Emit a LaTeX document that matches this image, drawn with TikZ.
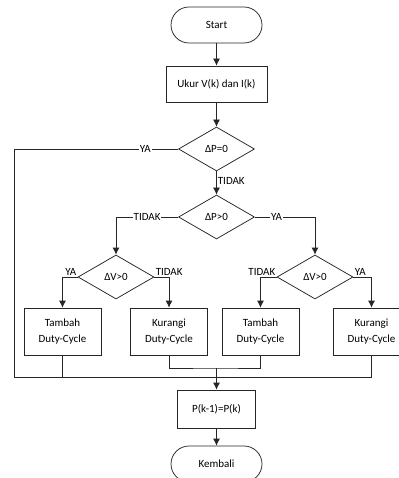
\documentclass[tikz,border=0pt]{standalone}
\usepackage{fontspec}
\setmainfont{Carlito}
\usepackage{tikz}
\usetikzlibrary{shapes.geometric,arrows.meta}
\tikzset{
  term/.style={draw,rounded corners=18pt,minimum width=91pt,minimum height=36pt},
  proc/.style={draw,minimum width=101pt,minimum height=36pt},
  act/.style={draw,align=center,minimum width=77pt,minimum height=47pt},
  dec/.style={draw,diamond,aspect=1.7,inner sep=0pt,minimum width=76pt,minimum height=44pt},
  lbl/.style={fill=white,inner sep=1pt,font=\fontsize{11}{13}\selectfont},
  arr/.style={-{Latex[length=7pt,width=7pt]}}
}
\begin{document}
\begin{tikzpicture}[x=1pt,y=-1pt,font=\fontsize{11}{16}\selectfont,line width=0.75pt,draw=black!85]
\useasboundingbox (0,0) rectangle (398,478);
\node[term] (start) at (216.5,25) {Start};
\node[proc] (ukur) at (216.5,84) {Ukur V(k) dan I(k)};
\node[dec] (dpnol) at (216.5,149) {ΔP=0};
\node[dec] (dppos) at (216.5,217) {ΔP>0};
\node[dec] (dvkiri) at (116,277) {ΔV>0};
\node[dec] (dvkanan) at (315,277) {ΔV>0};
\node[act] (tambah1) at (62.5,331.5) {Tambah\\Duty-Cycle};
\node[act] (kurang1) at (169,331.5) {Kurangi\\Duty-Cycle};
\node[act] (tambah2) at (260.5,331.5) {Tambah\\Duty-Cycle};
\node[act] (kurang2) at (371.5,331.5) {Kurangi\\Duty-Cycle};
\node[draw,minimum width=78pt,minimum height=38pt] (pk) at (216.5,409) {P(k-1)=P(k)};
\node[term] (kembali) at (216.5,464) {Kembali};
\coordinate (gabung) at (216.5,368);
\coordinate (bus) at (216.5,377);

\draw[arr] (start) -- (ukur);
\draw[arr] (ukur) -- (dpnol);
\draw[arr] (dpnol) -- node[lbl,pos=.4,anchor=west,fill=none]{TIDAK} (dppos);
\draw (dpnol.west) -- node[lbl,pos=.2]{YA} ++(-164,0) |- (kurang2.south |- bus) -- (kurang2.south);
\draw[arr] (dppos.west) -- node[lbl]{TIDAK} (dvkiri.north |- dppos.west) -- (dvkiri.north);
\draw[arr] (dppos.east) -- node[lbl,pos=.36]{YA} (dvkanan.north |- dppos.east) -- (dvkanan.north);
\draw[arr] (dvkiri.west) -| (tambah1.north);
\draw[arr] (dvkiri.east) -| (kurang1.north);
\draw[arr] (dvkanan.west) -| (tambah2.north);
\draw[arr] (dvkanan.east) -| (kurang2.north);
\node[lbl,fill=none,above left] at (dvkiri.west) {YA};
\node[lbl,fill=none,above right] at (dvkiri.east) {TIDAK};
\node[lbl,fill=none,above left] at (dvkanan.west) {TIDAK};
\node[lbl,fill=none,above right] at (dvkanan.east) {YA};

\draw (tambah1.south) -- (tambah1.south |- bus);
\draw (kurang1.south) |- (gabung) -| (tambah2.south);
\draw[arr] (gabung) -- (pk);
\draw[arr] (pk) -- (kembali);
\end{tikzpicture}
\end{document}
